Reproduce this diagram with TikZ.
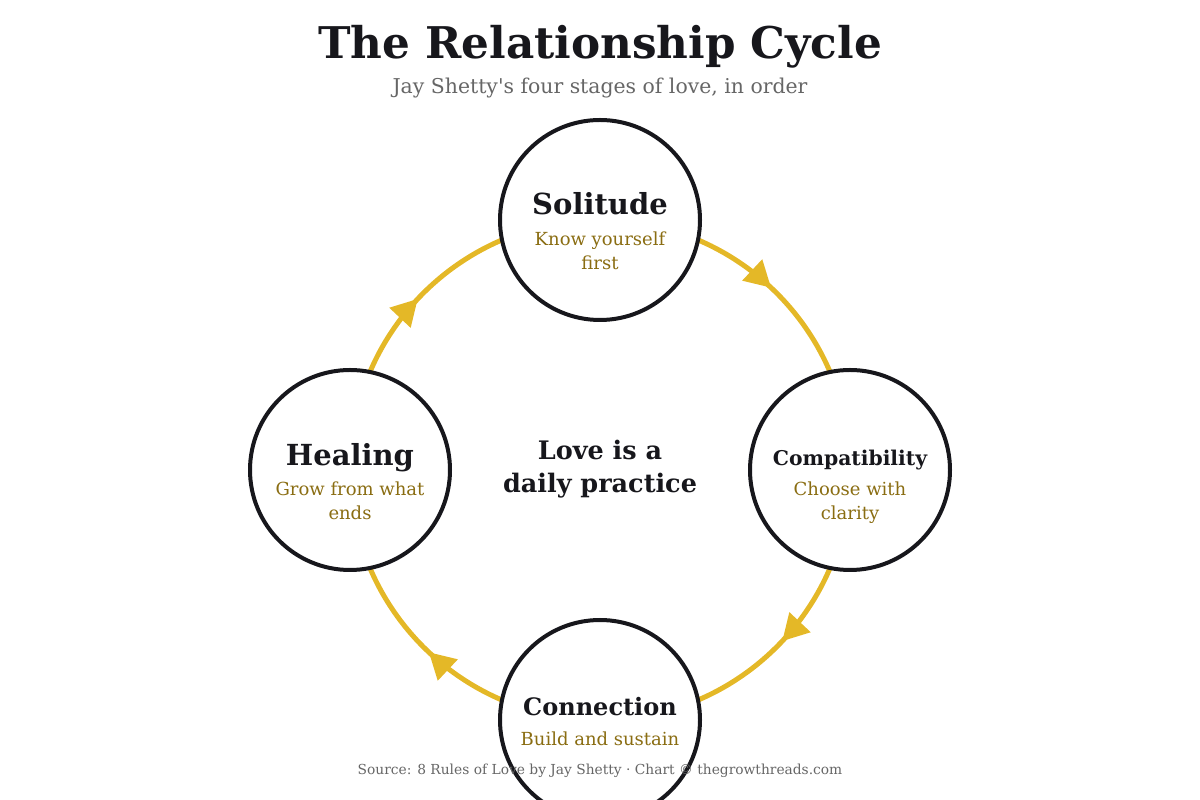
\documentclass[tikz,border=0pt]{standalone}
\usepackage{fontspec}
\setmainfont{DejaVu Serif}
\usetikzlibrary{arrows.meta,decorations.markings,backgrounds}
\definecolor{ringc}{HTML}{E4B827}
\definecolor{inkc}{HTML}{17171C}
\definecolor{goldc}{HTML}{8A6D12}
\definecolor{greyc}{HTML}{666666}
\tikzset{
  stage/.style={circle,draw=inkc,line width=4pt,fill=white,minimum size=200pt,inner sep=0pt},
  ring/.style={draw=ringc,line width=5pt,
    decoration={markings,mark=at position 0.48 with {\arrow{Triangle[length=26pt,width=28pt]}}},
    postaction=decorate},
  head/.style={anchor=base,text=inkc,font=\bfseries\fontsize{29}{31}\selectfont,inner sep=0pt},
  sub/.style={anchor=base,text=goldc,font=\fontsize{18}{20}\selectfont,inner sep=0pt},
}
\begin{document}
\begin{tikzpicture}[x=1pt,y=1pt]
\useasboundingbox (0,0) rectangle (1200,800);
\node[anchor=base,text=inkc,font=\bfseries\fontsize{43.7}{46}\selectfont,inner sep=0pt] (title) at (600,741) {The Relationship Cycle};
\node[anchor=base,text=greyc,font=\fontsize{20.4}{23}\selectfont,inner sep=0pt] (subtitle) at (600,706) {Jay Shetty\textquotesingle s four stages of love, in order};

\node[stage] (top) at (600,580) {};
\node[stage] (right) at (850,330) {};
\node[stage] (bottom) at (600,80) {};
\node[stage] (left) at (350,330) {};

\begin{pgfonlayer}{background}
\draw[ring] (top.center) arc[start angle=90,end angle=0,radius=250];
\draw[ring] (right.center) arc[start angle=0,end angle=-90,radius=250];
\draw[ring] (bottom.center) arc[start angle=270,end angle=180,radius=250];
\draw[ring] (left.center) arc[start angle=180,end angle=90,radius=250];
\end{pgfonlayer}

\node[head] (t1) at (600,585) {Solitude};
\node[sub] (t2) at (600,554) {Know yourself};
\node[sub] (t3) at (600,530) {first};

\node[head,font=\bfseries\fontsize{20.3}{22}\selectfont] (r1) at (850,334) {Compatibility};
\node[sub] (r2) at (850,304) {Choose with};
\node[sub] (r3) at (850,280) {clarity};

\node[head] (l1) at (350,334) {Healing};
\node[sub] (l2) at (350,304) {Grow from what};
\node[sub] (l3) at (350,280) {ends};

\node[head,font=\bfseries\fontsize{24}{26}\selectfont] (b1) at (600,84) {Connection};
\node[sub] (b2) at (600,54) {Build and sustain};

\node[head,font=\bfseries\fontsize{25.5}{27}\selectfont] (c1) at (600,340) {Love is a};
\node[head,font=\bfseries\fontsize{25.5}{27}\selectfont] (c2) at (600,307) {daily practice};

\node[anchor=base,text=greyc,font=\fontsize{13.8}{16}\selectfont,inner sep=0pt] (foot) at (600,25) {Source: 8 Rules of Love by Jay Shetty · Chart © thegrowthreads.com};
\end{tikzpicture}
\end{document}
